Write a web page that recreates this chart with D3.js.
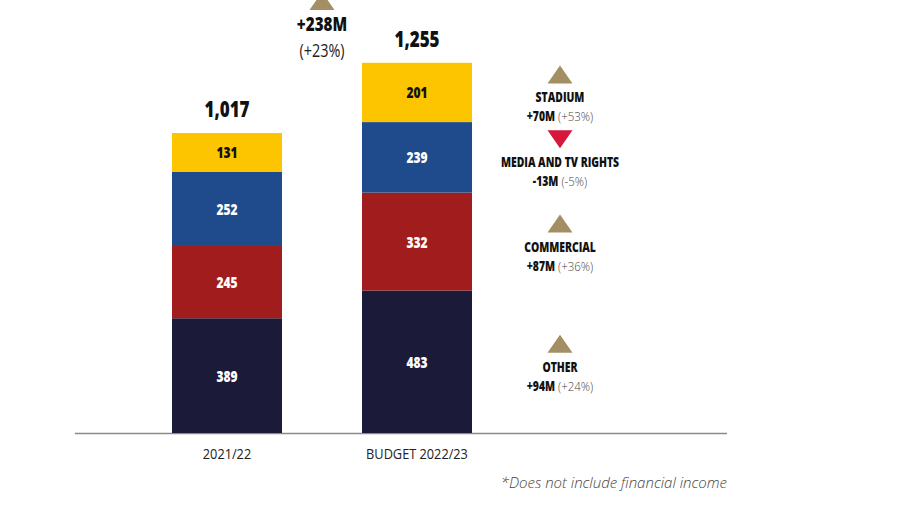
<!DOCTYPE html>
<html>
<head>
<meta charset="utf-8">
<script src="https://cdn.jsdelivr.net/npm/d3@7"></script>
<style>
  body { margin: 0; background: #fff; }
  .cond { font-family: "Open Sans", "DejaVu Sans", sans-serif; }
</style>
</head>
<body>
<div id="chart"></div>
<script>
// Datos
const years = ['2021/22', 'BUDGET 2022/23'];
const categories = ['OTHER', 'COMMERCIAL', 'MEDIA AND TV RIGHTS', 'STADIUM'];
const values2021 = [389, 245, 252, 131];
const values2022 = [483, 332, 239, 201];
const totals = [1017, 1255];
const footnote = '*Does not include financial income';

// Colores
const COLORS = ['#1b1a38', '#a11d1d', '#1f4a8c', '#fdc500'];
const UP = '#a38f63', DOWN = '#d6163b';

const W = 900, H = 514;
const svg = d3.select('#chart').append('svg').attr('width', W).attr('height', H);

const baseY = 433;
const y = d3.scaleLinear().domain([0, 1017]).range([baseY, 133]);
const x = d3.scaleBand().domain(years).range([172, 472]).paddingInner(0.4211).paddingOuter(0);

const series = [values2021, values2022];
const rows = years.map((yr, i) => {
  let acc = 0;
  return categories.map((c, j) => {
    const s = { year: yr, cat: c, value: series[i][j], y0: acc, y1: acc + series[i][j], idx: j };
    acc += series[i][j];
    return s;
  });
});

// Texto condensado: escala horizontal
function cond(sel, cx, sx) {
  return sel.attr('transform', 'translate(' + cx + ',0) scale(' + sx + ',1)').attr('x', 0);
}

// Eje base
svg.append('line').attr('x1', 75).attr('x2', 727).attr('y1', baseY + 0.5).attr('y2', baseY + 0.5)
  .attr('stroke', '#8a8a8a').attr('stroke-width', 1.5);

// Barras
const g = svg.append('g');
rows.forEach(r => {
  g.selectAll(null).data(r).enter().append('rect')
    .attr('x', d => x(d.year))
    .attr('width', x.bandwidth())
    .attr('y', d => y(d.y1))
    .attr('height', d => y(d.y0) - y(d.y1))
    .attr('fill', d => COLORS[d.idx]);
  g.selectAll(null).data(r).enter().append('text')
    .attr('class', 'cond')
    .each(function(d) { cond(d3.select(this), x(d.year) + x.bandwidth() / 2, 0.75); })
    .attr('y', d => (y(d.y0) + y(d.y1)) / 2 + 6)
    .attr('text-anchor', 'middle')
    .attr('font-size', 16).attr('font-weight', 800)
    .attr('fill', d => d.idx === 3 ? '#111' : '#fff')
    .text(d => d.value);
});

// Totales
svg.selectAll('.tot').data(totals).enter().append('text')
  .attr('class', 'cond')
  .each(function(d, i) { cond(d3.select(this), x(years[i]) + x.bandwidth() / 2, 0.74); })
  .attr('y', d => y(d) - 16)
  .attr('text-anchor', 'middle')
  .attr('font-size', 23).attr('font-weight', 800).attr('fill', '#111')
  .text(d => d3.format(',')(d));

// Etiquetas eje x
svg.selectAll('.xl').data(years).enter().append('text')
  .attr('class', 'cond')
  .each(function(d) { cond(d3.select(this), x(d) + x.bandwidth() / 2, 0.85); })
  .attr('y', 459)
  .attr('text-anchor', 'middle')
  .attr('font-size', 15).attr('fill', '#222')
  .text(d => d);

function tri(cx, cy, up, color) {
  const w = 12.5, h = 9;
  const pts = up
    ? [[cx - w, cy + h], [cx + w, cy + h], [cx, cy - h]]
    : [[cx - w, cy - h], [cx + w, cy - h], [cx, cy + h]];
  svg.append('path').attr('d', d3.line()(pts) + 'Z').attr('fill', color);
}

// Variación total
const totDiff = totals[1] - totals[0];
const totPct = Math.round(totDiff / totals[0] * 100);
const tx = (x(years[0]) + x.bandwidth() + x(years[1])) / 2;
tri(tx, 1, true, UP);
cond(svg.append('text').attr('class', 'cond'), tx, 0.76).attr('y', 31)
  .attr('text-anchor', 'middle').attr('font-size', 20).attr('font-weight', 800).attr('fill', '#111')
  .text('+' + totDiff + 'M');
cond(svg.append('text').attr('class', 'cond'), tx, 0.8).attr('y', 57)
  .attr('text-anchor', 'middle').attr('font-size', 18).attr('fill', '#222')
  .text('(+' + totPct + '%)');

// Anotaciones por categoría
const ax = 560, SX = 0.77, SX2 = 0.85, FS = 13.5;
rows[1].forEach((d, j) => {
  const diff = values2022[j] - values2021[j];
  const pct = Math.round(diff / values2021[j] * 100);
  const mid = (y(d.y0) + y(d.y1)) / 2;
  const up = diff >= 0;
  tri(ax, mid - 18, up, up ? UP : DOWN);
  cond(svg.append('text').attr('class', 'cond'), ax, SX).attr('y', mid + 10)
    .attr('text-anchor', 'middle').attr('font-size', FS).attr('font-weight', 800).attr('fill', '#111')
    .text(d.cat);
  // dos textos separados: valor en negrita y porcentaje en gris
  const a = svg.append('text').attr('class', 'cond').attr('y', mid + 29)
    .attr('font-size', FS).attr('font-weight', 800).attr('fill', '#111')
    .attr('text-anchor', 'start')
    .text((up ? '+' : '') + diff + 'M');
  const b = svg.append('text').attr('class', 'cond').attr('y', mid + 29)
    .attr('font-size', FS).attr('font-weight', 300).attr('fill', '#444')
    .attr('text-anchor', 'start')
    .text('(' + (up ? '+' : '') + pct + '%)');
  const wa = a.node().getComputedTextLength() * SX;
  const wb = b.node().getComputedTextLength() * SX2;
  const gap = 3;
  const x0 = ax - (wa + gap + wb) / 2;
  cond(a, x0, SX);
  cond(b, x0 + wa + gap, SX2);
});

// Nota
svg.append('text').attr('x', 727).attr('y', 488).attr('text-anchor', 'end')
  .attr('font-family', '"Open Sans", sans-serif').attr('font-style', 'italic').attr('font-weight', 300)
  .attr('font-size', 15).attr('fill', '#444')
  .text(footnote);
</script>
</body>
</html>
